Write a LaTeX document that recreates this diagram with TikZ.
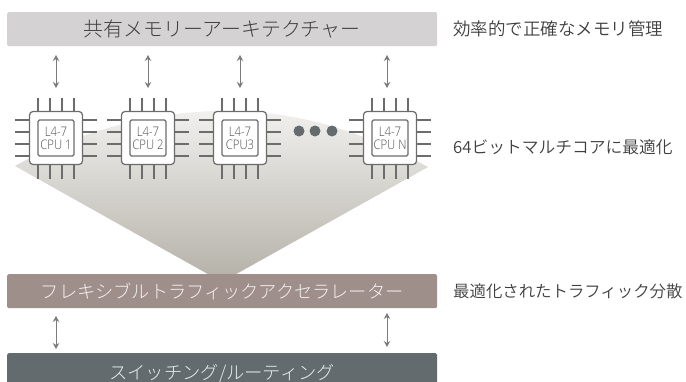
\documentclass[tikz,border=0pt]{standalone}
\usepackage{fontspec}
\setmainfont{Open Sans Light}
\newfontfamily\chipfont[FakeStretch=0.86]{Open Sans Light}
\newfontfamily\jp{Noto Sans CJK JP Light}
\newfontfamily\jpside{Noto Sans CJK JP DemiLight}
\usetikzlibrary{arrows.meta}
\definecolor{barA}{HTML}{D4D2D3}
\definecolor{barB}{HTML}{9F8F8B}
\definecolor{barC}{HTML}{636B6E}
\definecolor{ink}{HTML}{3F3F3F}
\definecolor{chipline}{HTML}{6C6C6C}
\definecolor{chiptext}{HTML}{4F4F4F}
\definecolor{arrowc}{HTML}{7C7C7C}
\definecolor{fanhi}{HTML}{F2F1EF}
\definecolor{fanlo}{HTML}{B6B3AA}
\tikzset{
  x=1pt,y=-1pt,
  bar/.style={rounded corners=1.5pt,minimum width=430pt,minimum height=34pt,inner sep=0pt,anchor=north west},
  side/.style={anchor=west,inner sep=0pt,text=ink},
  biarrow/.style={draw=arrowc,line width=1pt,{Stealth[length=6pt,width=6.5pt]}-{Stealth[length=6pt,width=6.5pt]}},
  chipouter/.style={draw=chipline,fill=white,line width=1.2pt,rounded corners=3.5pt,minimum size=53pt,inner sep=0pt},
  chipinner/.style={draw=chipline,line width=1.2pt,rounded corners=1.5pt,minimum size=36pt,inner sep=0pt,align=center,text=chiptext,font=\chipfont\fontsize{13.2}{14}\selectfont},
  pin/.style={draw=chipline,line width=1.2pt},
  dot/.style={circle,fill=barC,minimum size=11pt,inner sep=0pt},
}
\newcommand{\chipat}[3]{%
  \coordinate (#1) at (#2,138);
  \foreach \d in {-18,-6,6,18}{
    \draw[pin] ([xshift=\d pt,yshift=40.5pt]#1) -- ([xshift=\d pt,yshift=-40.5pt]#1);
    \draw[pin] ([xshift=-41pt,yshift=\d pt]#1) -- ([xshift=41pt,yshift=\d pt]#1);
  }
  \node[chipouter] (#1o) at (#1) {};
  \node[chipinner] (#1i) at (#1) {#3};
}
\begin{document}
\begin{tikzpicture}
\useasboundingbox (0,0) rectangle (686,381);
\clip (0,0) rectangle (686,381);
% fan
\begin{scope}
\clip (15,166) .. controls (70,135) and (150,111) .. (222,111) .. controls (290,111) and (350,125) .. (428,167) -- (222,282) -- cycle;
\shade[top color=fanhi,bottom color=fanlo] (0,108) rectangle (440,275);
\end{scope}
% bars
\node[bar,fill=barA,font=\jp\fontsize{19.9}{22}\selectfont,text=ink] (top) at (7,12) {共有メモリーアーキテクチャー};
\node[bar,fill=barB,font=\jp\fontsize{18.2}{20}\selectfont,text=white!88!barB] (mid) at (7,274) {フレキシブルトラフィックアクセラレーター};
\node[bar,fill=barC,minimum height=40pt,font=\jp\fontsize{18.3}{20}\selectfont,text=white!88!barC,text depth=6.5pt,text height=18.5pt] (low) at (7,353) {スイッチング/ルーティング};
% chips
\chipat{ca}{56}{L4-7\\[-1pt]CPU 1}
\chipat{cb}{148}{L4-7\\[-1pt]CPU 2}
\chipat{cc}{240}{L4-7\\[-1pt]CPU3}
\chipat{cd}{390}{L4-7\\[-1pt]CPU N}
\node[dot] (d1) at (299,131) {};
\node[dot] (d2) at (315,131) {};
\node[dot] (d3) at (332,131) {};
% arrows
\foreach \n/\x in {a/56,b/148,c/240,d/387}{
  \coordinate (u\n) at (\x,55);
  \coordinate (v\n) at (\x,88);
  \draw[biarrow] (u\n) -- (v\n);
}
\coordinate (p1) at (56,316);
\coordinate (q1) at (56,349);
\coordinate (p2) at (387,313);
\coordinate (q2) at (387,347);
\draw[biarrow] (p1) -- (q1);
\draw[biarrow] (p2) -- (q2);
% side labels
\node[side,font=\jpside\fontsize{17.5}{20}\selectfont] (s1) at (453,29) {効率的で正確なメモリ管理};
\node[side,font=\jpside\fontsize{16.75}{20}\selectfont] (s2) at (453,147) {64ビットマルチコアに最適化};
\node[side,font=\jpside\fontsize{16.4}{20}\selectfont] (s3) at (453,291) {最適化されたトラフィック分散};
\end{tikzpicture}
\end{document}
